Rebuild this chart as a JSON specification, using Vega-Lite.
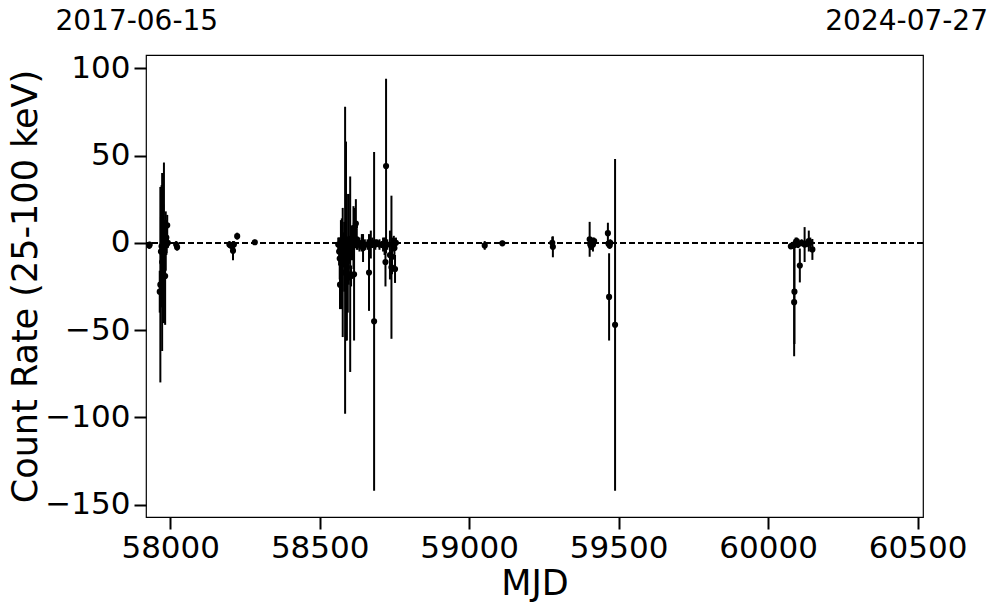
{
  "$schema": "https://vega.github.io/schema/vega-lite/v6.json",
  "autosize": {"type": "none"},
  "padding": {"left": 146, "top": 55, "right": 74, "bottom": 96},
  "width": 777,
  "height": 462,
  "background": "white",
  "config": {
    "view": {"stroke": "black", "strokeWidth": 1.2},
    "font": "DejaVu Sans",
    "axis": {
      "domain": false, "grid": false,
      "tickColor": "black", "tickWidth": 2, "tickSize": 12,
      "labelColor": "black", "labelFont": "DejaVu Sans", "labelFontSize": 31,
      "titleColor": "black", "titleFont": "DejaVu Sans", "titleFontSize": 35, "titleFontWeight": "normal"
    }
  },
  "data": {"values": [
    {"mjd": 57930, "rate": -1.5, "err": 2},
    {"mjd": 57931, "rate": -1, "err": 1.5},
    {"mjd": 57965, "rate": -28, "err": 12},
    {"mjd": 57967, "rate": -24, "err": 56},
    {"mjd": 57969, "rate": -5, "err": 20},
    {"mjd": 57971, "rate": -2, "err": 35},
    {"mjd": 57973, "rate": -11, "err": 51},
    {"mjd": 57975, "rate": -1, "err": 8},
    {"mjd": 57977, "rate": -3, "err": 25},
    {"mjd": 57979, "rate": 0, "err": 46},
    {"mjd": 57981, "rate": -2, "err": 15},
    {"mjd": 57983, "rate": -19, "err": 28},
    {"mjd": 57985, "rate": 1, "err": 17},
    {"mjd": 57987, "rate": 3, "err": 10},
    {"mjd": 57988, "rate": -1, "err": 5},
    {"mjd": 57990, "rate": 10, "err": 6},
    {"mjd": 57992, "rate": 0, "err": 3},
    {"mjd": 58020, "rate": -1, "err": 2},
    {"mjd": 58023, "rate": -2.5, "err": 2},
    {"mjd": 58198, "rate": -1, "err": 2},
    {"mjd": 58203, "rate": -1.5, "err": 2},
    {"mjd": 58210, "rate": -4.5, "err": 5.5},
    {"mjd": 58213, "rate": -1, "err": 2},
    {"mjd": 58224, "rate": 3.8, "err": 2},
    {"mjd": 58283, "rate": 0.3, "err": 1.5},
    {"mjd": 58562, "rate": -1, "err": 4},
    {"mjd": 58565, "rate": -5, "err": 8},
    {"mjd": 58567, "rate": -9, "err": 12},
    {"mjd": 58568, "rate": -24, "err": 14},
    {"mjd": 58571, "rate": -2, "err": 15},
    {"mjd": 58574, "rate": -12, "err": 26},
    {"mjd": 58577, "rate": -17, "err": 37},
    {"mjd": 58580, "rate": -4, "err": 10},
    {"mjd": 58582, "rate": -8, "err": 20},
    {"mjd": 58585, "rate": -10, "err": 88},
    {"mjd": 58588, "rate": 1, "err": 57},
    {"mjd": 58591, "rate": -14, "err": 42},
    {"mjd": 58594, "rate": -20, "err": 20},
    {"mjd": 58597, "rate": 2, "err": 26},
    {"mjd": 58599, "rate": -4, "err": 8},
    {"mjd": 58602, "rate": -18, "err": 56},
    {"mjd": 58605, "rate": -19, "err": 6},
    {"mjd": 58608, "rate": 0, "err": 10},
    {"mjd": 58611, "rate": -2, "err": 6},
    {"mjd": 58613, "rate": 3, "err": 18},
    {"mjd": 58615, "rate": -18, "err": 38},
    {"mjd": 58618, "rate": 9, "err": 10},
    {"mjd": 58621, "rate": 11, "err": 14},
    {"mjd": 58624, "rate": 2, "err": 6},
    {"mjd": 58627, "rate": -1, "err": 3},
    {"mjd": 58633, "rate": -1, "err": 4},
    {"mjd": 58641, "rate": 0, "err": 5},
    {"mjd": 58645, "rate": -3, "err": 8},
    {"mjd": 58651, "rate": -1, "err": 3},
    {"mjd": 58660, "rate": -1, "err": 3},
    {"mjd": 58665, "rate": -17, "err": 22},
    {"mjd": 58671, "rate": -1, "err": 8},
    {"mjd": 58676, "rate": 0, "err": 3},
    {"mjd": 58682, "rate": -45, "err": 97},
    {"mjd": 58686, "rate": -1, "err": 3},
    {"mjd": 58691, "rate": 0, "err": 2},
    {"mjd": 58700, "rate": -1, "err": 3},
    {"mjd": 58708, "rate": -1, "err": 2},
    {"mjd": 58712, "rate": -1, "err": 4},
    {"mjd": 58717, "rate": -2, "err": 5},
    {"mjd": 58720, "rate": -11, "err": 14},
    {"mjd": 58722, "rate": 44, "err": 50},
    {"mjd": 58726, "rate": -1, "err": 3},
    {"mjd": 58735, "rate": -7, "err": 14},
    {"mjd": 58740, "rate": -14, "err": 41},
    {"mjd": 58742, "rate": -8, "err": 10},
    {"mjd": 58745, "rate": -1, "err": 4},
    {"mjd": 58748, "rate": 1, "err": 3},
    {"mjd": 58750, "rate": -3, "err": 5},
    {"mjd": 58752, "rate": -15, "err": 8},
    {"mjd": 58755, "rate": 0, "err": 3},
    {"mjd": 59052, "rate": -1.5, "err": 2.5},
    {"mjd": 59111, "rate": -0.3, "err": 1.5},
    {"mjd": 59278, "rate": 0, "err": 3.5},
    {"mjd": 59280, "rate": -2.3, "err": 6},
    {"mjd": 59403, "rate": 2, "err": 10},
    {"mjd": 59405, "rate": -1, "err": 3},
    {"mjd": 59408, "rate": -2, "err": 2},
    {"mjd": 59410, "rate": 0, "err": 2},
    {"mjd": 59414, "rate": -1, "err": 4},
    {"mjd": 59418, "rate": 1, "err": 2},
    {"mjd": 59464, "rate": 5.5, "err": 6},
    {"mjd": 59466, "rate": -0.5, "err": 2},
    {"mjd": 59468, "rate": -31, "err": 25},
    {"mjd": 59470, "rate": -1.5, "err": 2},
    {"mjd": 59472, "rate": 0, "err": 2},
    {"mjd": 59488, "rate": -47, "err": 95},
    {"mjd": 60076, "rate": -2, "err": 1.5},
    {"mjd": 60081, "rate": -1.5, "err": 2},
    {"mjd": 60087, "rate": -34, "err": 31},
    {"mjd": 60088, "rate": -28, "err": 30},
    {"mjd": 60092, "rate": 0, "err": 3},
    {"mjd": 60096, "rate": 1, "err": 2},
    {"mjd": 60100, "rate": -1, "err": 2},
    {"mjd": 60106, "rate": -13, "err": 9.7},
    {"mjd": 60112, "rate": 0, "err": 2},
    {"mjd": 60122, "rate": -1, "err": 10},
    {"mjd": 60129, "rate": -0.5, "err": 2},
    {"mjd": 60136, "rate": 1, "err": 6},
    {"mjd": 60141, "rate": 0, "err": 3},
    {"mjd": 60148, "rate": -3.8, "err": 6}
  ]},
  "layer": [
    {
      "mark": {"type": "rule", "color": "black", "strokeWidth": 1.3, "strokeDash": [6, 3]},
      "encoding": {"y": {"datum": 0, "type": "quantitative"}}
    },
    {
      "mark": {"type": "errorbar", "ticks": false, "rule": {"color": "black", "strokeWidth": 2}},
      "encoding": {
        "x": {"field": "mjd", "type": "quantitative",
              "scale": {"domain": [57919, 60518], "nice": false, "zero": false},
              "axis": {"orient": "bottom", "values": [58000, 58500, 59000, 59500, 60000, 60500], "format": "d", "title": "MJD", "labelPadding": 4, "titlePadding": 3}},
        "y": {"field": "rate", "type": "quantitative",
              "scale": {"domain": [-157.1, 107.6], "nice": false, "zero": false},
              "axis": {"values": [-150, -100, -50, 0, 50, 100], "title": "Count Rate (25-100 keV)", "labelPadding": 4, "titlePadding": 1}},
        "yError": {"field": "err"}
      }
    },
    {
      "mark": {"type": "circle", "color": "black", "size": 38, "opacity": 1},
      "encoding": {
        "x": {"field": "mjd", "type": "quantitative",
              "axis": {"orient": "top", "values": [57920, 60495], "labelExpr": "datum.value < 59000 ? '2017-06-15' : '2024-07-27'", "ticks": false, "title": null, "labelPadding": 20, "labelOffset": -10, "labelFontSize": 28, "labelFlush": false, "labelOverlap": false, "labelBound": false}},
        "y": {"field": "rate", "type": "quantitative"}
      }
    }
  ],
  "resolve": {"axis": {"x": "independent"}}
}
